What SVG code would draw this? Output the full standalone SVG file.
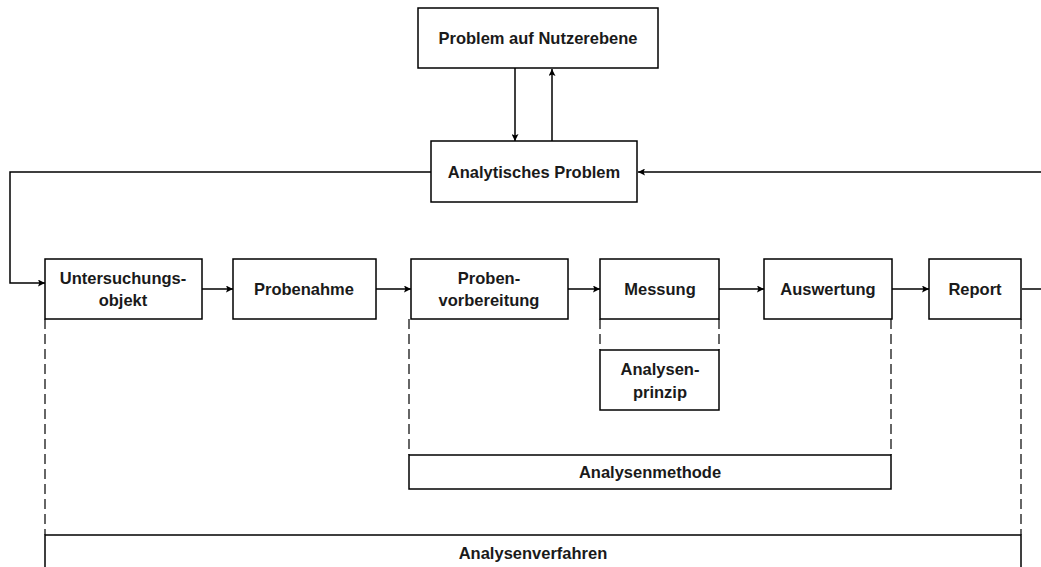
<svg xmlns="http://www.w3.org/2000/svg" width="1041" height="567" viewBox="0 0 1041 567">
<defs>
<marker id="ah" viewBox="0 0 10 10" refX="10" refY="5" markerWidth="8" markerHeight="7" markerUnits="userSpaceOnUse" orient="auto">
<path d="M0,0 L10,5 L0,10 L2,5 Z" fill="#000"/>
</marker>
<style>
.box{fill:#fff;stroke:#000;stroke-width:1.5}
.t{font-family:"Liberation Sans",Arial,sans-serif;font-weight:bold;font-size:16.5px;fill:#1a1a1a;text-anchor:middle;dominant-baseline:central}
.c{fill:none;stroke:#000;stroke-width:1.5}
.d{fill:none;stroke:#000;stroke-width:1.2;stroke-dasharray:10 5}
</style>
</defs>
<rect width="1041" height="567" fill="#fff"/>
<g id="connectors">
<line class="c" x1="515" y1="68" x2="515" y2="141" marker-end="url(#ah)"/>
<line class="c" x1="552" y1="141" x2="552" y2="69" marker-end="url(#ah)"/>
<polyline class="c" points="431,172 10,172 10,283 45,283" marker-end="url(#ah)"/>
<line class="c" x1="1041" y1="172" x2="638" y2="172" marker-end="url(#ah)"/>
<line class="c" x1="202" y1="289" x2="233" y2="289" marker-end="url(#ah)"/>
<line class="c" x1="376" y1="289" x2="411" y2="289" marker-end="url(#ah)"/>
<line class="c" x1="568" y1="289" x2="600" y2="289" marker-end="url(#ah)"/>
<line class="c" x1="719" y1="289" x2="764" y2="289" marker-end="url(#ah)"/>
<line class="c" x1="892" y1="289" x2="929" y2="289" marker-end="url(#ah)"/>
<line class="c" x1="1022" y1="289" x2="1041" y2="289"/>
<line class="d" x1="45" y1="319" x2="45" y2="535"/>
<line class="d" x1="1021" y1="319" x2="1021" y2="535"/>
<line class="d" x1="409" y1="319" x2="409" y2="455"/>
<line class="d" x1="891" y1="319" x2="891" y2="455"/>
<line class="d" x1="600" y1="319" x2="600" y2="350"/>
<line class="d" x1="719" y1="319" x2="719" y2="350"/>
</g>
<g id="n-nutzer"><rect class="box" x="418" y="8" width="240" height="60"/><text class="t" x="538" y="38">Problem auf Nutzerebene</text></g>
<g id="n-analytisch"><rect class="box" x="431" y="141" width="206" height="61"/><text class="t" x="534" y="172">Analytisches Problem</text></g>
<g id="n-untersuchung"><rect class="box" x="45" y="259" width="157" height="60"/><text class="t" x="123" y="278">Untersuchungs-</text><text class="t" x="123" y="300">objekt</text></g>
<g id="n-probenahme"><rect class="box" x="233" y="259" width="143" height="60"/><text class="t" x="304" y="289">Probenahme</text></g>
<g id="n-vorbereitung"><rect class="box" x="411" y="259" width="157" height="60"/><text class="t" x="489" y="278">Proben-</text><text class="t" x="489" y="300">vorbereitung</text></g>
<g id="n-messung"><rect class="box" x="600" y="259" width="119" height="60"/><text class="t" x="660" y="289">Messung</text></g>
<g id="n-auswertung"><rect class="box" x="764" y="259" width="128" height="60"/><text class="t" x="828" y="289">Auswertung</text></g>
<g id="n-report"><rect class="box" x="929" y="259" width="92" height="60"/><text class="t" x="975" y="289">Report</text></g>
<g id="n-prinzip"><rect class="box" x="600" y="350" width="119" height="60"/><text class="t" x="660" y="369">Analysen-</text><text class="t" x="660" y="392">prinzip</text></g>
<g id="n-methode"><rect class="box" x="409" y="455" width="482" height="34"/><text class="t" x="650" y="472">Analysenmethode</text></g>
<g id="n-verfahren"><rect class="box" x="45" y="535" width="976" height="40"/><text class="t" x="533" y="553">Analysenverfahren</text></g>
</svg>
